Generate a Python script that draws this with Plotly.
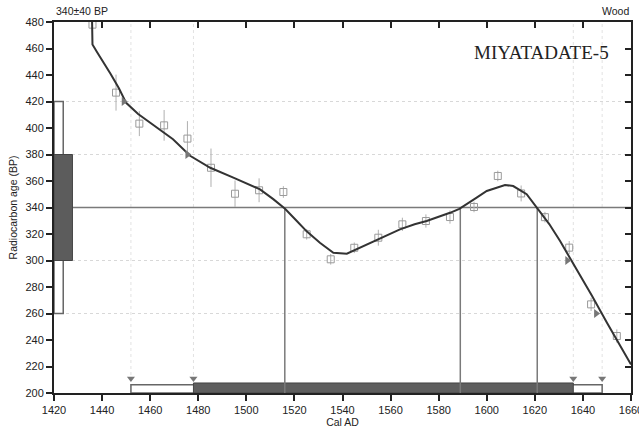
import plotly.graph_objects as go

# ---- data ----
sample_label = "340±40 BP"
material = "Wood"
sample_name = "MIYATADATE-5"
c14_age = 340
c14_err = 40
sigma1_bp = [300, 380]
sigma2_bp = [260, 420]
cal_1sigma = [1478, 1636]
cal_2sigma = [1452, 1648]
intercepts = [1516, 1589, 1621]

curve_year = [1435.8, 1436, 1438, 1440.5, 1443.5, 1447, 1450, 1455, 1462.7, 1469.5,
              1476.6, 1485, 1494.6, 1505.7, 1511.2, 1516.1, 1521, 1525.1, 1530.6,
              1536.2, 1541.8, 1545.9, 1551.5, 1558.4, 1563.9, 1570, 1575, 1584.7,
              1588.6, 1595.8, 1600, 1607.6, 1611, 1616.6, 1621.2, 1626, 1630.5, 1634.6,
              1640.2, 1643.7, 1650, 1656.8, 1660]
curve_bp = [484, 463, 457, 450, 441, 430, 419, 410.5, 400.5, 391.5,
            379, 370, 362.5, 353.7, 346.3, 339, 329.8, 322, 313.4,
            305.9, 305.1, 308.4, 313.4, 318.5, 323.5, 327.3, 329.8, 336,
            339, 347.4, 352.5, 357, 356.2, 350, 339, 327.5, 314.7, 302,
            284.5, 273.5, 253, 231.7, 221.5]

pt_year = [1436, 1445.8, 1455.5, 1465.8, 1475.5, 1485.3, 1495.3, 1505.3, 1515.4,
           1525.1, 1535.1, 1544.9, 1554.9, 1564.9, 1574.7, 1584.7, 1594.7, 1604.6,
           1614.3, 1624.2, 1634.3, 1643.4, 1654.1]
pt_bp = [478, 426.7, 403.3, 402, 392, 370, 350.4, 353, 351.7,
         319.8, 300.9, 309.6, 317.2, 327.3, 329.8, 332.8, 340.4, 363.8,
         350.6, 332.7, 309.7, 266.9, 243]
pt_err = [5, 13.6, 9.4, 11.6, 13.2, 14.5, 10, 9, 4.4,
          4, 4, 4, 6, 5, 5, 5, 4, 4,
          6, 4, 5, 5, 5]

arrow_year = [1449, 1475.5, 1633.5, 1645.5]
arrow_bp = [420, 380, 300, 260]

x_ticks = list(range(1420, 1661, 20))
y_ticks = list(range(200, 481, 20))

# ---- figure ----
fig = go.Figure()

fig.add_trace(go.Scatter(
    x=pt_year, y=pt_bp, mode="markers",
    marker=dict(symbol="square-open", size=7, color="#9a9a9a", line=dict(width=1)),
    error_y=dict(type="data", array=pt_err, color="#b0b0b0", thickness=1, width=0),
    showlegend=False, hoverinfo="skip"))

fig.add_trace(go.Scatter(
    x=curve_year, y=curve_bp, mode="lines",
    line=dict(color="#333333", width=2),
    showlegend=False, hoverinfo="skip"))

fig.add_trace(go.Scatter(
    x=arrow_year, y=arrow_bp, mode="markers",
    marker=dict(symbol="triangle-right", size=8, color="#777777"),
    showlegend=False, hoverinfo="skip"))

range_ends = [cal_2sigma[0], cal_1sigma[0], cal_1sigma[1], cal_2sigma[1]]
fig.add_trace(go.Scatter(
    x=range_ends, y=[211] * len(range_ends), mode="markers",
    marker=dict(symbol="triangle-down", size=7, color="#777777"),
    showlegend=False, hoverinfo="skip"))

# dummy trace for the mirrored axes
fig.add_trace(go.Scatter(x=[None], y=[None], xaxis="x2", yaxis="y2",
                         showlegend=False, hoverinfo="skip"))

shapes = []
# faint dotted guide lines
for yv in sigma2_bp + sigma1_bp:
    shapes.append(dict(type="line", xref="x domain", yref="y", x0=0, x1=1, y0=yv, y1=yv,
                       line=dict(color="#d8d8d8", width=1, dash="dot"), layer="below"))
for xv in range_ends:
    shapes.append(dict(type="line", xref="x", yref="y domain", x0=xv, x1=xv, y0=0, y1=1,
                       line=dict(color="#e2e2e2", width=1, dash="dot"), layer="below"))
# measured age line
shapes.append(dict(type="line", xref="x domain", yref="y", x0=0, x1=1, y0=c14_age, y1=c14_age,
                   line=dict(color="#7a7a7a", width=1.5), layer="below"))
# intercept lines
for xv in intercepts:
    shapes.append(dict(type="line", xref="x", yref="y", x0=xv, x1=xv, y0=200, y1=c14_age,
                       line=dict(color="#7a7a7a", width=1.5), layer="below"))
# left age boxes
shapes.append(dict(type="rect", xref="x domain", yref="y", x0=0, x1=0.016,
                   y0=sigma2_bp[0], y1=sigma2_bp[1], fillcolor="white",
                   line=dict(color="#666666", width=1.5), layer="below"))
shapes.append(dict(type="rect", xref="x domain", yref="y", x0=0, x1=0.032,
                   y0=sigma1_bp[0], y1=sigma1_bp[1], fillcolor="#5c5c5c",
                   line=dict(color="#444444", width=1), layer="below"))
# bottom calendar ranges
shapes.append(dict(type="rect", xref="x", yref="y domain", x0=cal_2sigma[0], x1=cal_2sigma[1],
                   y0=0, y1=0.022, fillcolor="white",
                   line=dict(color="#666666", width=1.5), layer="below"))
shapes.append(dict(type="rect", xref="x", yref="y domain", x0=cal_1sigma[0], x1=cal_1sigma[1],
                   y0=0, y1=0.027, fillcolor="#5e5e5e",
                   line=dict(color="#444444", width=1), layer="below"))

tickfont = dict(family="Liberation Sans, Arial, sans-serif", size=11, color="#222222")

fig.update_layout(
    width=639, height=428,
    margin=dict(l=54, r=8, t=22, b=35),
    paper_bgcolor="white", plot_bgcolor="white",
    shapes=shapes,
    xaxis=dict(range=[1420, 1660], tickvals=x_ticks, ticktext=[str(v) for v in x_ticks],
               ticks="outside", ticklen=6, tickwidth=2, tickcolor="#222222",
               showline=True, linecolor="#222222", linewidth=2, mirror=True,
               showgrid=False, zeroline=False, tickfont=tickfont, automargin=False,
               ticklabeloverflow="allow",
               title=dict(text="Cal AD", standoff=2,
                          font=dict(family="Liberation Sans, Arial, sans-serif", size=10.5,
                                    color="#222222"))),
    yaxis=dict(range=[200, 480], tickvals=y_ticks, ticktext=[str(v) for v in y_ticks],
               ticks="outside", ticklen=6, tickwidth=2, tickcolor="#222222",
               showline=True, linecolor="#222222", linewidth=2, mirror=True,
               showgrid=False, zeroline=False, tickfont=tickfont, automargin=False,
               ticklabeloverflow="allow",
               title=dict(text="Radiocarbon age (BP)", standoff=6,
                          font=dict(family="Liberation Sans, Arial, sans-serif", size=10.5,
                                    color="#222222"))),
    xaxis2=dict(range=[1420, 1660], overlaying="x", side="top", tickvals=x_ticks,
                ticks="inside", ticklen=6, tickwidth=2, tickcolor="#222222",
                showticklabels=False, showline=False, showgrid=False, zeroline=False),
    yaxis2=dict(range=[200, 480], overlaying="y", side="right", tickvals=y_ticks,
                ticks="inside", ticklen=6, tickwidth=2, tickcolor="#222222",
                showticklabels=False, showline=False, showgrid=False, zeroline=False),
    annotations=[
        dict(text=sample_label, xref="paper", yref="paper", x=0, y=1, xanchor="left",
             yanchor="bottom", yshift=3, showarrow=False,
             font=dict(family="Liberation Sans, Arial, sans-serif", size=10.5, color="#222222")),
        dict(text=material, xref="paper", yref="paper", x=1, y=1, xanchor="right",
             yanchor="bottom", yshift=3, showarrow=False,
             font=dict(family="Liberation Sans, Arial, sans-serif", size=10.5, color="#222222")),
        dict(text=sample_name, xref="paper", yref="paper", x=0.965, y=0.919, xanchor="right",
             yanchor="middle", showarrow=False,
             font=dict(family="Liberation Serif, Times New Roman, serif", size=19,
                       color="#222222")),
    ],
)

fig.write_html("out.html", config={"displayModeBar": False},
               post_script="document.body.style.margin='0';")
